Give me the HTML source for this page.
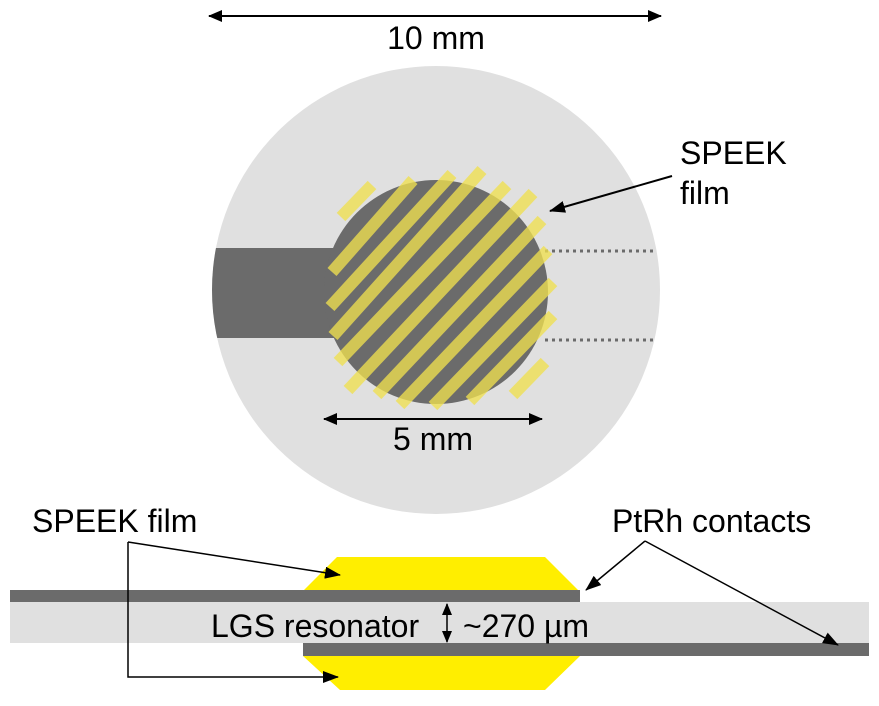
<!DOCTYPE html>
<html><head><meta charset="utf-8"><style>
html,body{margin:0;padding:0;background:#fff;width:879px;height:706px;overflow:hidden}
svg{display:block}
text{font-family:"Liberation Sans",Arial,sans-serif;fill:#000}
</style></head><body>
<svg width="879" height="706" viewBox="0 0 879 706" xmlns="http://www.w3.org/2000/svg">
<defs>
<marker id="ah" markerWidth="12" markerHeight="10" refX="11" refY="5" orient="auto-start-reverse" markerUnits="userSpaceOnUse" viewBox="0 0 12 10">
<path d="M0,0 L12,5 L0,10 z" fill="#000"/></marker>
<marker id="ahs" markerWidth="14" markerHeight="12" refX="13" refY="6" orient="auto-start-reverse" markerUnits="userSpaceOnUse" viewBox="0 0 14 12">
<path d="M0,0 L14,6 L0,12 z" fill="#000"/></marker>
<marker id="ahb" markerWidth="16" markerHeight="12" refX="15" refY="6" orient="auto" markerUnits="userSpaceOnUse" viewBox="0 0 16 12">
<path d="M0,0 L16,6 L0,12 z" fill="#000"/></marker>
</defs>
<line x1="209" y1="16" x2="661" y2="16" stroke="#000" stroke-width="2" marker-start="url(#ahs)" marker-end="url(#ahs)"/>
<text x="436" y="49" font-size="32" text-anchor="middle">10 mm</text>
<circle cx="436" cy="290" r="224" fill="#e0e0e0"/>
<clipPath id="big"><circle cx="436" cy="290" r="224"/></clipPath>
<rect x="200" y="248" width="135" height="90" fill="#6b6b6b" clip-path="url(#big)"/>
<line x1="545" y1="251" x2="654" y2="251" stroke="#6b6b6b" stroke-width="3" stroke-dasharray="3,4"/>
<line x1="545" y1="340" x2="654" y2="340" stroke="#6b6b6b" stroke-width="3" stroke-dasharray="3,4"/>
<circle cx="436" cy="292" r="112" fill="#6b6b6b"/>
<g stroke="#f0e050" stroke-width="12" opacity="0.78" stroke-linecap="butt">
<line x1="341" y1="217" x2="372" y2="185"/>
<line x1="332" y1="272" x2="413" y2="180"/>
<line x1="330" y1="307" x2="452" y2="174"/>
<line x1="333" y1="336" x2="482" y2="170"/>
<line x1="338" y1="362" x2="507" y2="185"/>
<line x1="348" y1="390" x2="533" y2="193"/>
<line x1="377" y1="395" x2="542" y2="220"/>
<line x1="400" y1="405" x2="548" y2="250"/>
<line x1="433" y1="406" x2="553" y2="282"/>
<line x1="470" y1="401" x2="553" y2="315"/>
<line x1="513" y1="395" x2="545" y2="362"/>
</g>
<text x="680" y="164" font-size="32">SPEEK</text>
<text x="680" y="204" font-size="32">film</text>
<line x1="672" y1="176" x2="550" y2="211" stroke="#000" stroke-width="2" marker-end="url(#ahb)"/>
<line x1="324" y1="419" x2="542" y2="419" stroke="#000" stroke-width="2" marker-start="url(#ahs)" marker-end="url(#ahs)"/>
<text x="433" y="450" font-size="32" text-anchor="middle">5 mm</text>
<polygon points="337,557 545,557 580,592 302,592" fill="#ffee00"/>
<polygon points="303,656 580,656 545,690 340,690" fill="#ffee00"/>
<rect x="10" y="602" width="859" height="41" fill="#e0e0e0"/>
<rect x="10" y="590" width="570" height="12" fill="#6b6b6b"/>
<rect x="303" y="643" width="566" height="13" fill="#6b6b6b"/>
<text x="211" y="637" font-size="32">LGS resonator</text>
<text x="463" y="637" font-size="32">~270 µm</text>
<line x1="447" y1="604" x2="447" y2="642" stroke="#000" stroke-width="1.5" marker-start="url(#ah)" marker-end="url(#ah)"/>
<text x="32" y="532" font-size="32">SPEEK film</text>
<text x="612" y="532" font-size="32">PtRh contacts</text>
<polyline points="128,542 128,677 338,677" fill="none" stroke="#000" stroke-width="1.5" marker-end="url(#ahb)"/>
<line x1="128" y1="542" x2="340" y2="575" stroke="#000" stroke-width="1.5" marker-end="url(#ahb)"/>
<line x1="645" y1="541" x2="586" y2="590" stroke="#000" stroke-width="1.5" marker-end="url(#ahb)"/>
<line x1="645" y1="541" x2="838" y2="645" stroke="#000" stroke-width="1.5" marker-end="url(#ahb)"/>
</svg>
</body></html>
